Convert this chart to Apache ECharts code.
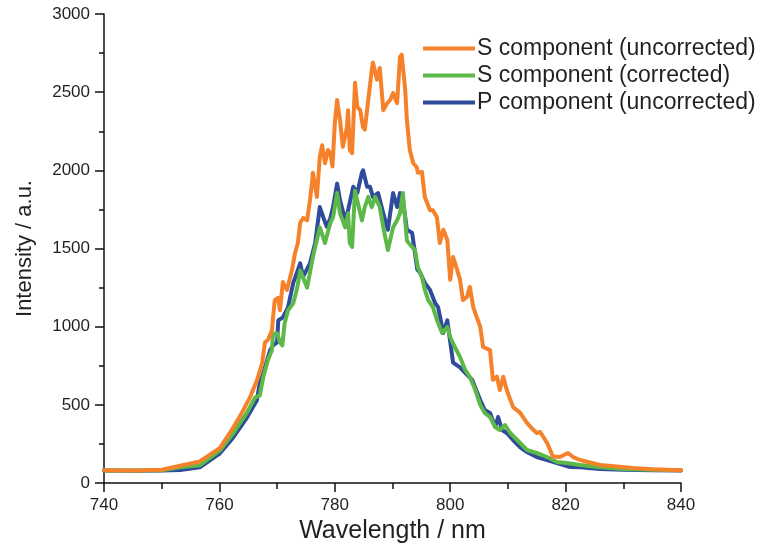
<!DOCTYPE html>
<html>
<head>
<meta charset="utf-8">
<script src="https://cdn.jsdelivr.net/npm/echarts@6/dist/echarts.min.js"></script>
<style>html,body{margin:0;padding:0;background:#fff}#c{width:770px;height:549px}</style>
</head>
<body>
<div id="c"></div>
<script>
var seriesNames = ['S component (uncorrected)', 'S component (corrected)', 'P component (uncorrected)'];
var xTicks = [740, 760, 780, 800, 820, 840];
var yTicks = [0, 500, 1000, 1500, 2000, 2500, 3000];

var sUncorrWl = [740,745,750,753.2,756.6,760.1,762.4,763.9,765.3,766.5,767.4,767.9,768.4,769.1,769.3,769.6,770.2,770.5,771.0,771.7,772.6,773.1,773.6,774.0,774.5,775.2,775.7,776.1,776.2,776.9,777.4,777.8,778.3,778.8,779.2,779.6,780.0,780.4,780.9,781.4,782.1,782.3,782.6,783.0,783.5,783.9,784.4,784.9,785.2,785.8,786.4,786.6,787.3,787.8,788.4,789.1,789.6,790.1,790.8,791.3,791.6,792.2,792.5,793.0,793.6,794.2,794.4,795.1,795.6,796.5,797.0,797.7,798.2,798.8,799.5,800.0,800.5,801.2,801.7,802.2,802.9,803.4,804.0,804.6,805.2,805.7,806.9,807.4,808.1,808.6,809.2,809.8,810.9,812.1,813.3,814.4,815.0,815.6,816.8,817.8,819.0,820.4,821.3,822.5,826.0,831.7,835,840];
var sUncorrVal = [82,80,85,110,138,225,355,450,548,655,765,900,915,975,1060,1170,1185,1105,1285,1235,1365,1470,1535,1665,1695,1680,1810,1940,1985,1830,2085,2160,2045,2130,2110,2025,2300,2450,2320,2150,2275,2385,2130,2110,2560,2405,2385,2275,2260,2450,2640,2690,2580,2655,2385,2430,2450,2495,2430,2725,2740,2515,2320,2130,2045,2020,1985,1990,1830,1745,1745,1700,1535,1620,1555,1300,1445,1365,1300,1170,1190,1255,1125,1060,1000,870,850,660,680,595,680,595,485,450,385,340,320,326,256,170,166,192,166,147,115,96,88,82];

var sCorrWl = [740,745,750,753.2,756.6,760.1,762.4,764.8,766.2,767.0,767.6,768.4,769.1,769.3,770.0,770.5,770.9,771.3,771.9,772.8,773.5,774.0,775.2,776.2,777.4,778.3,779.2,779.7,780.4,780.9,781.8,782.3,782.6,783.0,783.5,784.0,784.7,785.2,785.8,786.4,787.0,787.8,788.4,789.2,790.1,790.8,791.3,791.8,792.5,793.4,793.9,794.4,795.1,795.6,796.2,797.0,797.7,798.6,799.5,800.0,800.8,801.7,802.6,803.4,804.3,805.2,806.0,806.9,807.8,808.6,809.5,810.4,811.6,813.3,815.0,816.8,818.5,820.2,822.5,826,830,835,840];
var sCorrVal = [80,80,82,100,113,208,318,452,548,560,676,785,850,955,958,900,880,1020,1105,1150,1250,1360,1250,1445,1635,1535,1660,1700,1855,1725,1635,1725,1535,1510,1870,1790,1680,1765,1830,1765,1830,1765,1635,1490,1635,1680,1725,1855,1550,1510,1490,1380,1318,1235,1170,1125,1043,960,998,934,870,806,723,678,600,500,448,422,358,339,371,320,275,211,192,166,134,128,115,100,90,85,82];

var pUncorrWl = [740,745,750,753.2,756.6,760.1,762.4,764.8,766.5,767.0,767.6,768.3,768.8,769.3,770.0,770.2,771.0,771.9,772.8,774.0,774.5,775.7,776.6,777.4,778.0,778.6,779.2,779.7,780.4,780.9,781.8,782.3,783.2,783.9,784.7,784.9,785.6,786.1,786.6,787.5,788.4,789.2,790.1,790.8,791.3,791.8,792.5,793.4,794.3,794.8,795.6,796.5,797.4,797.9,798.8,799.5,800.5,801.7,802.6,803.8,804.3,805.2,806.0,806.9,807.8,808.3,809.0,809.8,810.9,812.1,813.3,815.0,816.8,818.5,820.8,822.5,826,830,835,840];
var pUncorrVal = [80,78,80,83,100,190,292,420,530,640,700,790,850,880,900,1040,1060,1125,1280,1405,1320,1405,1535,1765,1700,1640,1690,1765,1915,1810,1680,1745,1895,1855,1985,2000,1895,1895,1830,1855,1725,1620,1855,1765,1855,1810,1620,1600,1365,1345,1280,1235,1150,1125,960,1040,770,740,705,660,614,531,467,448,358,422,339,320,275,230,198,166,147,128,102,100,90,85,82,80];

function zip(a, b) { return a.map(function (v, i) { return [v, b[i]]; }); }

var FONT = "'Liberation Sans', Arial, sans-serif";
var TXT = '#231F20';
var colors = { s: '#F5822A', c: '#5DB947', p: '#2F4B9C' };

function lineSeries(name, data, color, z) {
  return { name: name, type: 'line', data: data, showSymbol: false, symbol: 'none', color: color, z: z,
    lineStyle: { width: 4, color: color, cap: 'round', join: 'round' } };
}

var chart = echarts.init(document.getElementById('c'));
chart.setOption({
  animation: false,
  backgroundColor: '#fff',
  grid: { left: 104, right: 89, top: 14, bottom: 66 },
  legend: {
    data: seriesNames,
    orient: 'vertical',
    left: 418, top: 32,
    itemWidth: 52, itemHeight: 4, itemGap: 4,
    textStyle: { fontFamily: FONT, fontSize: 23, color: TXT, lineHeight: 23, padding: [0, 0, 0, -3] },
    icon: 'rect'
  },
  xAxis: {
    type: 'value', min: 740, max: 840, interval: 20,
    name: 'Wavelength / nm', nameLocation: 'middle', nameGap: 26,
    nameTextStyle: { fontFamily: FONT, fontSize: 25, color: TXT },
    axisLine: { lineStyle: { color: '#111', width: 1.5 } },
    axisTick: { inside: false, length: 9, lineStyle: { color: '#111', width: 1.5 } },
    minorTick: { show: true, splitNumber: 2, length: 6, lineStyle: { color: '#111', width: 1.5 } },
    splitLine: { show: false },
    axisLabel: { margin: 14, fontFamily: FONT, fontSize: 17, color: TXT,
      formatter: function (v) { return xTicks.indexOf(v) >= 0 ? String(v) : ''; } }
  },
  yAxis: {
    type: 'value', min: 0, max: 3000, interval: 500,
    name: 'Intensity / a.u.', nameLocation: 'middle', nameGap: 68,
    nameTextStyle: { fontFamily: FONT, fontSize: 22, color: TXT },
    axisLine: { show: true, lineStyle: { color: '#111', width: 1.5 } },
    axisTick: { show: true, inside: false, length: 9, lineStyle: { color: '#111', width: 1.5 } },
    minorTick: { show: true, splitNumber: 2, length: 5, lineStyle: { color: '#111', width: 1.5 } },
    splitLine: { show: false },
    axisLabel: { margin: 14, fontFamily: FONT, fontSize: 17, color: TXT,
      formatter: function (v) { return yTicks.indexOf(v) >= 0 ? String(v) : ''; } }
  },
  series: [
    lineSeries(seriesNames[2], zip(pUncorrWl, pUncorrVal), colors.p, 2),
    lineSeries(seriesNames[1], zip(sCorrWl, sCorrVal), colors.c, 3),
    lineSeries(seriesNames[0], zip(sUncorrWl, sUncorrVal), colors.s, 4)
  ]
});
</script>
</body>
</html>
